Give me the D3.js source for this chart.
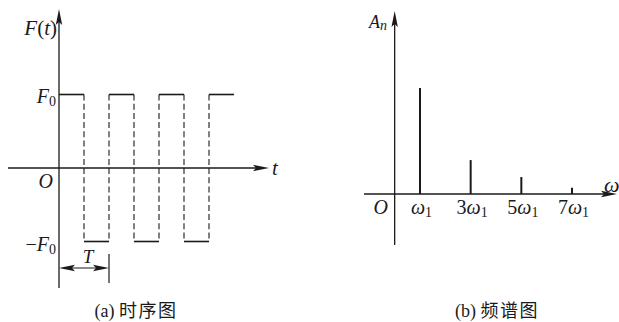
<!DOCTYPE html>
<html><head><meta charset="utf-8">
<script src="https://cdn.jsdelivr.net/npm/d3@7/dist/d3.min.js"></script>
<style>body{margin:0;background:#fff}svg{display:block}</style>
</head><body>
<script>
// ---- data ----
const breakpoints = [0, 0.5, 1, 1.5, 2, 2.5, 3, 3.5];   // time in units of T
const levels = [1, -1, 1, -1, 1, -1, 1];                  // F(t)/F0 on each interval
const harmonics = [1, 3, 5, 7];                            // multiples of ω1
const amplitudes = [1.0, 0.32, 0.16, 0.06];                // relative A_n
const harmonicLabels = ["ω", "3ω", "5ω", "7ω"];
const captionTags = ["(a) ", "(b) "];
const captionTexts = ["时序图", "频谱图"];

const W = 619, H = 322, ink = "#1a1a1a";
const svg = d3.select("body").append("svg").attr("width", W).attr("height", H);
const serif = "'Liberation Serif','DejaVu Serif',serif";
const capFont = "'Liberation Serif','Noto Sans CJK SC',serif";

function arrow(g, x, y, dir) {
  const L = 16, w = 3.2;
  const p = dir === "up"
    ? [[x, y], [x - w, y + L], [x, y + L - 3], [x + w, y + L]]
    : dir === "right"
    ? [[x, y], [x - L, y - w], [x - L + 3, y], [x - L, y + w]]
    : [[x, y], [x + L, y - w], [x + L - 3, y], [x + L, y + w]];
  g.append("path").attr("d", "M" + p.join("L") + "Z").attr("fill", ink);
}
const lab = (g, x, y, anchor, size) => g.append("text").attr("x", x).attr("y", y)
  .attr("text-anchor", anchor).attr("font-family", serif).attr("font-size", size || 20).attr("fill", ink);
function caption(g, x, i) {
  const tx = g.append("text").attr("x", x).attr("y", 317).attr("text-anchor", "middle")
    .attr("font-family", capFont).attr("font-size", 18).attr("fill", ink);
  tx.append("tspan").text(captionTags[i]);
  tx.append("tspan").attr("letter-spacing", 1.5).text(captionTexts[i]);
}

// ---------- (a) time plot ----------
const xa = d3.scaleLinear().domain([0, 1]).range([59, 109]);
const ya = d3.scaleLinear().domain([-1, 1]).range([241.5, 94.5]);
const ga = svg.append("g");

ga.append("line").attr("x1", xa(-1.02)).attr("x2", xa(4.1)).attr("y1", ya(0)).attr("y2", ya(0))
  .attr("stroke", ink).attr("stroke-width", 1.3);
arrow(ga, xa(4.2), ya(0), "right");
ga.append("line").attr("x1", xa(0)).attr("x2", xa(0)).attr("y1", 20).attr("y2", 288)
  .attr("stroke", ink).attr("stroke-width", 1.3);
arrow(ga, xa(0), 9, "up");

ga.selectAll("line.seg").data(levels).join("line").attr("class", "seg")
  .attr("x1", (d, i) => xa(breakpoints[i])).attr("x2", (d, i) => xa(breakpoints[i + 1]))
  .attr("y1", d => ya(d)).attr("y2", d => ya(d))
  .attr("stroke", ink).attr("stroke-width", 1.6);
ga.selectAll("line.edge").data(breakpoints.slice(1, -1)).join("line").attr("class", "edge")
  .attr("x1", d => xa(d)).attr("x2", d => xa(d))
  .attr("y1", ya(1)).attr("y2", ya(-1))
  .attr("stroke", ink).attr("stroke-width", 1.1).attr("stroke-dasharray", "6,3.2");

// T annotation
const yT = 268;
ga.append("line").attr("x1", xa(0) + 8).attr("x2", xa(1) - 8).attr("y1", yT).attr("y2", yT)
  .attr("stroke", ink).attr("stroke-width", 1.1);
arrow(ga, xa(1), yT, "right");
arrow(ga, xa(0), yT, "left");
ga.append("line").attr("x1", xa(1)).attr("x2", xa(1)).attr("y1", 254).attr("y2", 283)
  .attr("stroke", ink).attr("stroke-width", 1.2);
lab(ga, xa(0.58), 263, "middle", 19).attr("font-style", "italic").text("T");

// labels
let t = lab(ga, 57, 35, "end", 21);
t.append("tspan").attr("font-style", "italic").text("F");
t.append("tspan").text("(");
t.append("tspan").attr("font-style", "italic").text("t");
t.append("tspan").text(")");
t = lab(ga, 56, ya(1) + 8, "end");
t.append("tspan").attr("font-style", "italic").text("F");
t.append("tspan").attr("font-size", 14).attr("dy", 3).text("0");
t = lab(ga, 56, ya(-1) + 9, "end");
t.append("tspan").text("−");
t.append("tspan").attr("font-style", "italic").text("F");
t.append("tspan").attr("font-size", 14).attr("dy", 3).text("0");
lab(ga, 53, 188, "end").attr("font-style", "italic").text("O");
lab(ga, 272, ya(0) + 7, "start", 21).attr("font-style", "italic").text("t");
caption(ga, 136, 0);

// ---------- (b) spectrum ----------
const xb = d3.scaleLinear().domain([1, 7]).range([420, 572]);
const yb = d3.scaleLinear().domain([0, 1]).range([194, 88]);
const gb = svg.append("g");
gb.append("line").attr("x1", 364).attr("x2", 606).attr("y1", yb(0)).attr("y2", yb(0))
  .attr("stroke", ink).attr("stroke-width", 1.3);
arrow(gb, 617, yb(0), "right");
gb.append("line").attr("x1", xb(0)).attr("x2", xb(0)).attr("y1", 22).attr("y2", 245)
  .attr("stroke", ink).attr("stroke-width", 1.3);
arrow(gb, xb(0), 11, "up");

gb.selectAll("line.bar").data(harmonics).join("line").attr("class", "bar")
  .attr("x1", d => xb(d)).attr("x2", d => xb(d))
  .attr("y1", yb(0)).attr("y2", (d, i) => yb(amplitudes[i]))
  .attr("stroke", ink).attr("stroke-width", 2);

harmonics.forEach((h, i) => {
  const tt = lab(gb, xb(h) + 1.5, 214, "middle");
  const s = harmonicLabels[i];
  if (s.length > 1) tt.append("tspan").text(s[0]);
  tt.append("tspan").attr("font-style", "italic").text("ω");
  tt.append("tspan").attr("font-size", 14).attr("dy", 3).text("1");
});
lab(gb, 388, 214, "end").attr("font-style", "italic").text("O");
lab(gb, 604, 192, "start", 22).attr("font-style", "italic").text("ω");
t = lab(gb, 369, 28, "start", 18);
t.append("tspan").attr("font-style", "italic").text("A");
t.append("tspan").attr("font-style", "italic").attr("font-size", 14).attr("dy", 2).text("n");
caption(gb, 497, 1);
</script>
</body></html>
